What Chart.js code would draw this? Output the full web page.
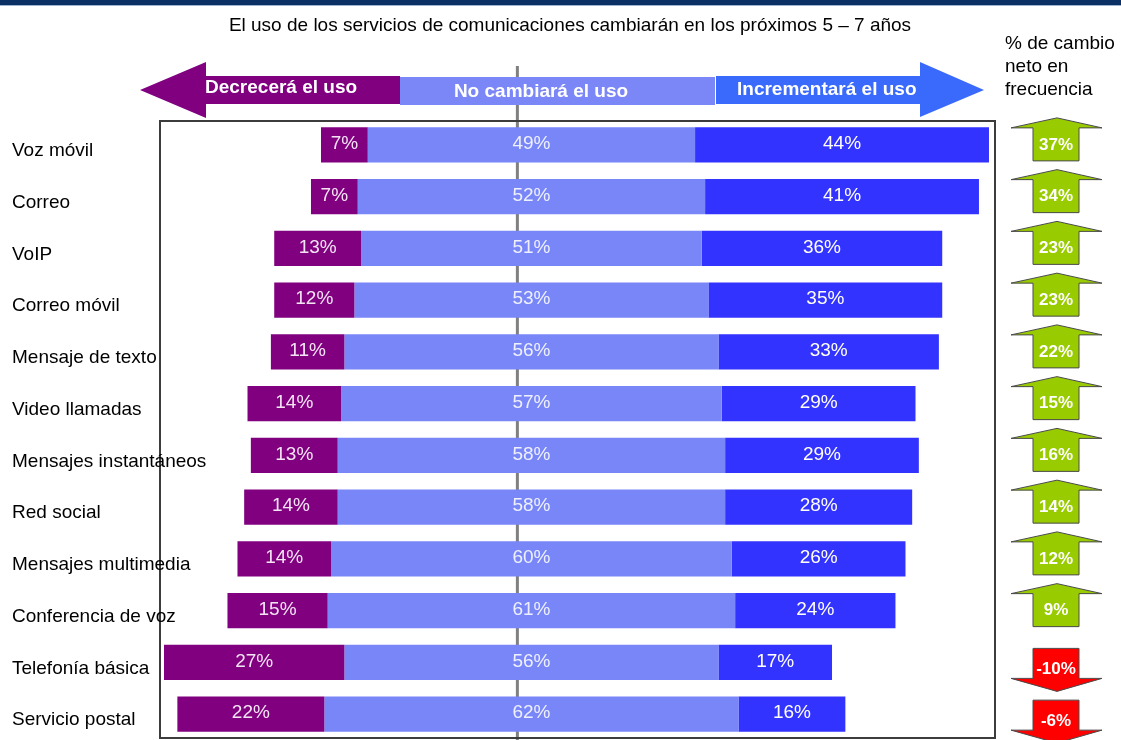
<!DOCTYPE html>
<html lang="es">
<head>
<meta charset="utf-8">
<title>Uso de servicios de comunicaciones</title>
<script src="https://cdn.jsdelivr.net/npm/chart.js@4/dist/chart.umd.min.js"></script>
<style>
  html, body { margin: 0; padding: 0; background: #ffffff; }
  #wrap { width: 1121px; height: 740px; position: relative; }
</style>
</head>
<body>
<div id="wrap"><canvas id="chart" width="1121" height="740"></canvas></div>
<script>
// Servicios encuestados
const categories = [
  'Voz móvil', 'Correo', 'VoIP', 'Correo móvil', 'Mensaje de texto',
  'Video llamadas', 'Mensajes instantáneos', 'Red social',
  'Mensajes multimedia', 'Conferencia de voz', 'Telefonía básica', 'Servicio postal'
];
// Porcentaje de respuestas por servicio
const decrease = [7, 7, 13, 12, 11, 14, 13, 14, 14, 15, 27, 22];
const noChange = [49, 52, 51, 53, 56, 57, 58, 58, 60, 61, 56, 62];
const increase = [44, 41, 36, 35, 33, 29, 29, 28, 26, 24, 17, 16];
// % de cambio neto en frecuencia
const netChange = [37, 34, 23, 23, 22, 15, 16, 14, 12, 9, -10, -6];

const titleText = 'El uso de los servicios de comunicaciones cambiarán en los próximos 5 – 7 años';
const headerLabels = ['Decrecerá el uso', 'No cambiará el uso', 'Incrementará el uso'];
const netHeader = ['% de cambio', 'neto en', 'frecuencia'];

const FONT = '"Liberation Sans", Arial, sans-serif';
const C_DEC = '#800080';
const C_NEU = '#7886f8';
const C_INC = '#3333ff';

// Diverging layout: the "no change" block is centred on zero
const decBars = decrease.map((d, i) => [-noChange[i] / 2 - d, -noChange[i] / 2]);
const neuBars = noChange.map(n => [-n / 2, n / 2]);
const incBars = increase.map((v, i) => [noChange[i] / 2, noChange[i] / 2 + v]);

const DIVIDER_VALUE = -2.1; // vertical guide line position on the x scale

const decorations = {
  id: 'decorations',
  beforeDraw(chart) {
    const ctx = chart.ctx;
    const x = chart.scales.x;
    ctx.save();
    ctx.fillStyle = '#ffffff';
    ctx.fillRect(0, 0, chart.width, chart.height);
    // top band
    ctx.fillStyle = '#0b3064';
    ctx.fillRect(0, 0, chart.width, 5);
    ctx.fillStyle = '#9db4d2';
    ctx.fillRect(0, 5, chart.width, 1);
    // title
    ctx.fillStyle = '#000000';
    ctx.font = '19px ' + FONT;
    ctx.textAlign = 'center';
    ctx.textBaseline = 'middle';
    ctx.fillText(titleText, 570, 26);
    // net change header
    ctx.textAlign = 'left';
    netHeader.forEach((t, i) => ctx.fillText(t, 1005, 44 + i * 23));
    // vertical guide line
    const gx = x.getPixelForValue(DIVIDER_VALUE);
    ctx.strokeStyle = '#808080';
    ctx.lineWidth = 3;
    ctx.beginPath();
    ctx.moveTo(gx, 66);
    ctx.lineTo(gx, chart.height);
    ctx.stroke();
    // header arrows
    ctx.fillStyle = C_DEC;
    ctx.beginPath();
    ctx.moveTo(140, 90); ctx.lineTo(206, 62); ctx.lineTo(206, 76);
    ctx.lineTo(400, 76); ctx.lineTo(400, 104); ctx.lineTo(206, 104);
    ctx.lineTo(206, 118); ctx.closePath(); ctx.fill();
    ctx.fillStyle = '#7b87f7';
    ctx.fillRect(400, 77, 315, 28);
    ctx.fillStyle = '#3a6afc';
    ctx.beginPath();
    ctx.moveTo(716, 76); ctx.lineTo(920, 76); ctx.lineTo(920, 62);
    ctx.lineTo(984, 90); ctx.lineTo(920, 117); ctx.lineTo(920, 104);
    ctx.lineTo(716, 104); ctx.closePath(); ctx.fill();
    ctx.fillStyle = '#ffffff';
    ctx.font = 'bold 19px ' + FONT;
    ctx.textAlign = 'left';
    ctx.fillText(headerLabels[0], 205, 88);
    ctx.textAlign = 'center';
    ctx.fillText(headerLabels[1], 541, 92);
    ctx.textAlign = 'left';
    ctx.fillText(headerLabels[2], 737, 90);
    ctx.restore();
  },
  afterDatasetsDraw(chart) {
    const ctx = chart.ctx;
    const y = chart.scales.y;
    ctx.save();
    // value labels inside bars
    const labelColors = ['#f3e4f3', '#eef0ff', '#ffffff'];
    const values = [decrease, noChange, increase];
    ctx.font = '19px ' + FONT;
    ctx.textAlign = 'center';
    ctx.textBaseline = 'middle';
    chart.data.datasets.forEach((ds, di) => {
      chart.getDatasetMeta(di).data.forEach((bar, i) => {
        const cx = (bar.x + bar.base) / 2;
        ctx.fillStyle = labelColors[di];
        ctx.fillText(values[di][i] + '%', cx, bar.y - 1);
      });
    });
    // frame
    ctx.strokeStyle = '#3c3c3c';
    ctx.lineWidth = 2;
    ctx.strokeRect(160, 121, 835, 617);
    // category labels
    ctx.fillStyle = '#000000';
    ctx.textAlign = 'left';
    categories.forEach((c, i) => {
      ctx.fillText(c, 12, y.getPixelForValue(i) + 6);
    });
    // net change arrows
    netChange.forEach((v, i) => {
      const cy = y.getPixelForValue(i);
      ctx.beginPath();
      if (v >= 0) {
        ctx.moveTo(1057, cy - 27);
        ctx.lineTo(1102, cy - 17); ctx.lineTo(1079, cy - 17);
        ctx.lineTo(1079, cy + 16); ctx.lineTo(1033, cy + 16);
        ctx.lineTo(1033, cy - 17); ctx.lineTo(1011, cy - 17);
        ctx.closePath();
        ctx.fillStyle = '#99cc00';
      } else {
        ctx.moveTo(1033, cy - 14);
        ctx.lineTo(1079, cy - 14); ctx.lineTo(1079, cy + 16);
        ctx.lineTo(1102, cy + 16); ctx.lineTo(1057, cy + 29);
        ctx.lineTo(1011, cy + 16); ctx.lineTo(1033, cy + 16);
        ctx.closePath();
        ctx.fillStyle = '#ff0000';
      }
      ctx.fill();
      ctx.strokeStyle = '#4a4a4a';
      ctx.lineWidth = 1;
      ctx.stroke();
      ctx.fillStyle = '#ffffff';
      ctx.font = 'bold 17px ' + FONT;
      ctx.textAlign = 'center';
      ctx.fillText(v + '%', 1056, v >= 0 ? cy : cy + 7);
      ctx.font = '19px ' + FONT;
      ctx.textAlign = 'left';
    });
    ctx.restore();
  }
};

new Chart(document.getElementById('chart'), {
  type: 'bar',
  data: {
    labels: categories,
    datasets: [
      { label: 'Decrecerá el uso', data: decBars, backgroundColor: C_DEC },
      { label: 'No cambiará el uso', data: neuBars, backgroundColor: C_NEU },
      { label: 'Incrementará el uso', data: incBars, backgroundColor: C_INC }
    ]
  },
  options: {
    indexAxis: 'y',
    responsive: false,
    animation: false,
    layout: { padding: { left: 160, right: 126, top: 119, bottom: 0 } },
    datasets: {
      bar: { grouped: false, categoryPercentage: 1, barPercentage: 0.68, borderWidth: 0 }
    },
    scales: {
      x: { display: false, min: -55.6, max: 69.4 },
      y: { display: false }
    },
    plugins: {
      legend: { display: false },
      tooltip: { enabled: false }
    }
  },
  plugins: [decorations]
});
</script>
</body>
</html>
